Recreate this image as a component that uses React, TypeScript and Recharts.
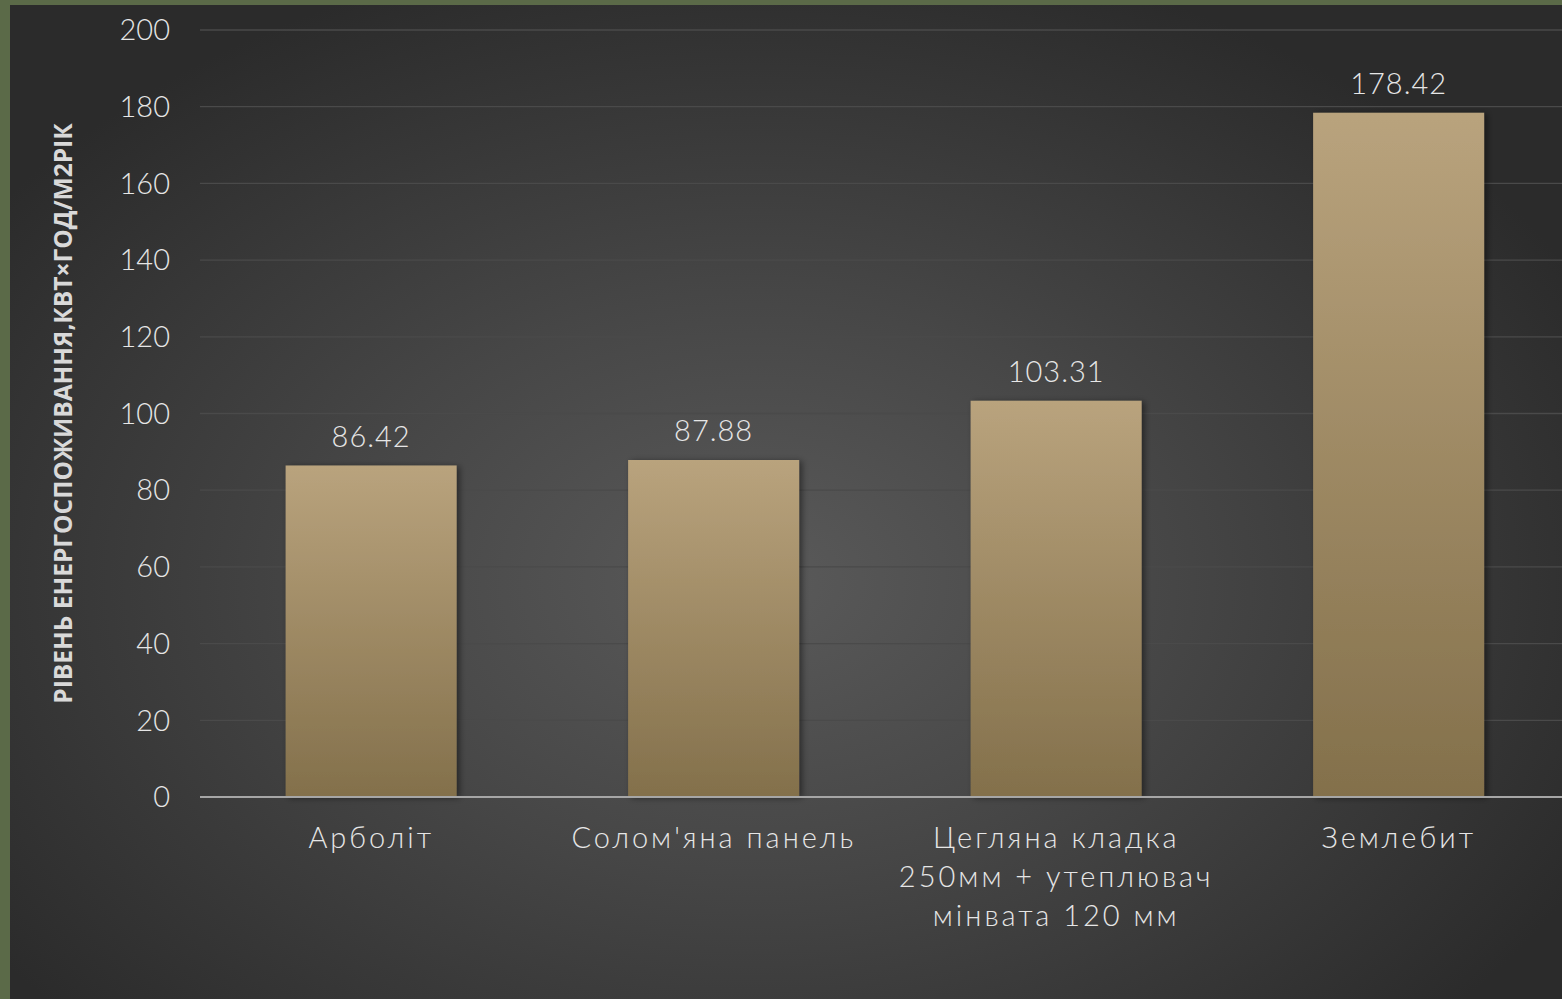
import React from "react";
import { BarChart, Bar, XAxis, YAxis, CartesianGrid, LabelList } from "recharts";

const categories = [
  "Арболіт",
  "Солом'яна панель",
  "Цегляна кладка\n250мм + утеплювач\nмінвата 120 мм",
  "Землебит",
];
const values = [86.42, 87.88, 103.31, 178.42];
const yTicks = [0, 20, 40, 60, 80, 100, 120, 140, 160, 180, 200];
const yAxisTitle = "РІВЕНЬ ЕНЕРГОСПОЖИВАННЯ,КВТ×ГОД/М2РІК";

const data = categories.map((name, i) => ({ name, value: values[i] }));

const FONT = "Lato, 'Open Sans', sans-serif";
const TEXT = "#e6e6e6";

const XTick = (props: any) => {
  const { x, y, payload } = props;
  const lines = String(payload.value).split("\n");
  return (
    <g>
      {lines.map((ln: string, i: number) => (
        <text
          key={i}
          x={x}
          y={y + 31 + i * 39}
          textAnchor="middle"
          dominantBaseline="central"
          fill={TEXT}
          fontSize={29}
          fontFamily={FONT}
          fontWeight={300}
          letterSpacing={3}
        >
          {ln}
        </text>
      ))}
    </g>
  );
};

const YTitle = (props: any) => {
  const vb = props.viewBox || {};
  const cx = 62;
  const cy = vb.y + vb.height / 2;
  return (
    <text
      x={cx}
      y={cy}
      transform={`rotate(-90 ${cx} ${cy})`}
      textAnchor="middle"
      dominantBaseline="central"
      fill="#d9d9d9"
      fontSize={24.5}
      fontWeight={700}
      fontFamily="'Open Sans', sans-serif"
    >
      {yAxisTitle}
    </text>
  );
};

export default function App() {
  return (
    <div
      style={{
        position: "fixed",
        left: 0,
        top: 0,
        width: 1562,
        height: 999,
        overflow: "hidden",
        background: "#5b6a48",
      }}
    >
      <div
        style={{
          position: "absolute",
          left: 10,
          top: 5,
          width: 1552,
          height: 994,
          background:
            "radial-gradient(ellipse 60% 65% at 48% 58%, #5a5a5a 0%, #464646 45%, #2b2b2b 100%)",
        }}
      />
      <div style={{ position: "absolute", left: 0, top: 0 }}>
        <BarChart
          width={1570}
          height={999}
          data={data}
          margin={{ top: 30, right: 0, bottom: 52, left: 0 }}
          barCategoryGap="25%"
        >
          <defs>
            <linearGradient id="barGrad" x1="0" y1="0" x2="0" y2="1">
              <stop offset="0%" stopColor="#b9a37d" />
              <stop offset="100%" stopColor="#83704b" />
            </linearGradient>
            <filter id="shadow" x="-10%" y="-10%" width="130%" height="120%">
              <feDropShadow dx="3" dy="1" stdDeviation="3" floodColor="#000" floodOpacity="0.45" />
            </filter>
          </defs>
          <CartesianGrid vertical={false} stroke="#4a4a4a" strokeWidth={1.3} />
          <XAxis
            dataKey="name"
            tick={<XTick />}
            tickLine={false}
            axisLine={{ stroke: "#a6a6a6", strokeWidth: 2 }}
            height={150}
            interval={0}
          />
          <YAxis
            domain={[0, 200]}
            ticks={yTicks}
            width={200}
            tickLine={false}
            axisLine={false}
            tickSize={6}
            tickMargin={24}
            tick={{ fill: TEXT, fontSize: 29, fontFamily: FONT, fontWeight: 300 }}
            label={<YTitle />}
          />
          <Bar
            dataKey="value"
            fill="url(#barGrad)"
            isAnimationActive={false}
            style={{ filter: "url(#shadow)" }}
          >
            <LabelList
              dataKey="value"
              position="top"
              offset={19}
              fill={TEXT}
              fontSize={29}
              fontFamily={FONT}
              fontWeight={300}
              letterSpacing={1}
              formatter={(v: any) => Number(v).toFixed(2)}
            />
          </Bar>
        </BarChart>
      </div>
    </div>
  );
}
